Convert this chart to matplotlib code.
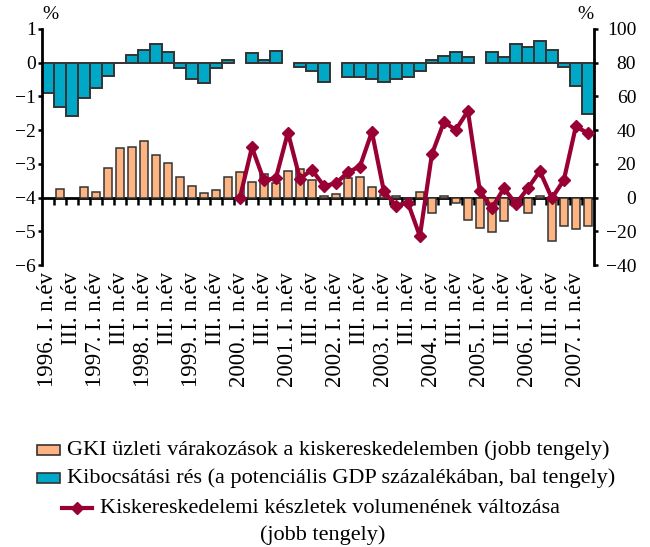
import numpy as np
import matplotlib
matplotlib.use("Agg")
import matplotlib.pyplot as plt
from matplotlib.patches import Rectangle
from matplotlib.lines import Line2D

plt.rcParams['font.family'] = ['Liberation Serif', 'DejaVu Serif']

# quarterly data, 1996 Q1 - 2007 Q2
tick_labels = ["1996. I. n.év", "III. n.év", "1997. I. n.év", "III. n.év",
               "1998. I. n.év", "III. n.év", "1999. I. n.év", "III. n.év",
               "2000. I. n.év", "III. n.év", "2001. I. n.év", "III. n.év",
               "2002. I. n.év", "III. n.év", "2003. I. n.év", "III. n.év",
               "2004. I. n.év", "III. n.év", "2005. I. n.év", "III. n.év",
               "2006. I. n.év", "III. n.év", "2007. I. n.év"]

# output gap, % of potential GDP (left axis)
gap = [-0.91, -1.30, -1.59, -1.04, -0.75, -0.39, -0.02, 0.23, 0.38, 0.56,
       0.31, -0.17, -0.49, -0.61, -0.17, 0.09, 0.0, 0.29, 0.09, 0.36,
       0.0, -0.13, -0.26, -0.57, 0.0, -0.43, -0.43, -0.49, -0.57, -0.49,
       -0.43, -0.25, 0.09, 0.19, 0.31, 0.16, 0.0, 0.31, 0.18, 0.56,
       0.47, 0.65, 0.38, -0.13, -0.69, -1.52]

# GKI retail business expectations (right axis)
gki = [0.0, 5.3, 0.0, 6.5, 3.5, 17.8, 29.4, 30.0, 33.7, 25.0,
       20.5, 12.2, 7.1, 2.8, 4.4, 12.0, 14.9, 9.0, 14.1, 8.4,
       15.5, 17.1, 10.4, 1.2, 2.2, 11.8, 12.2, 6.5, 1.8, 1.0,
       -1.0, 3.5, -9.0, 1.0, -3.3, -13.5, -17.8, -20.4, -13.9, -4.9,
       -9.0, 1.0, -25.5, -17.0, -18.4, -17.0]

# change in retail inventories volume (right axis)
stocks = [np.nan] * 16 + [0.0, 29.8, 10.2, 11.6, 38.6, 11.2, 16.5, 6.9, 8.4, 15.1,
                          18.4, 39.0, 3.7, -4.7, -3.1, -22.9, 25.7, 44.7, 40.2, 51.4,
                          3.9, -6.3, 5.5, -3.7, 5.5, 15.7, -0.4, 10.4, 42.2, 38.2]

blue = '#00A8C8'
orange = '#FDB482'
red = '#990033'
edge = '#333333'

fig = plt.figure(figsize=(6.5, 5.47), dpi=100)
ax = fig.add_axes([0.0646, 0.5155, 0.849, 0.4315])
ax2 = ax.twinx()

x = np.arange(len(gap)) + 0.5
gap_a = np.array(gap)
gki_a = np.array(gki)
m1 = gap_a != 0
m2 = gki_a != 0

ax.bar(x[m1], gap_a[m1], width=1.0, color=blue, edgecolor=edge, linewidth=1.4, zorder=2)
ax2.bar(x[m2], gki_a[m2], width=0.72, color=orange, edgecolor=edge, linewidth=1.1, zorder=2)
ax2.plot(x, stocks, color=red, lw=3, marker='D', ms=6.5, zorder=3)

ax.set_xlim(0, len(gap))
ax.set_ylim(-6, 1)
ax2.set_ylim(-40, 100)
ax.set_yticks(range(-6, 2))
ax2.set_yticks(range(-40, 101, 20))

for a in (ax, ax2):
    a.spines['top'].set_visible(False)
    for s in a.spines.values():
        s.set_linewidth(2)
ax.spines['right'].set_visible(False)
ax2.spines['left'].set_visible(False)
ax2.spines['bottom'].set_visible(False)
ax.spines['bottom'].set_position(('data', -4))
ax.spines['bottom'].set_zorder(4)

ax.set_xticks(np.arange(1, len(gap)))
ax.tick_params(axis='x', direction='out', length=5, width=1.8, labelbottom=False)
ax.tick_params(axis='y', direction='out', length=3, width=1.8, labelsize=14, pad=1.5)
ax2.tick_params(axis='y', direction='out', length=3, width=1.8, labelsize=14, pad=27.5)
for t in ax2.get_yticklabels():
    t.set_horizontalalignment('right')

for i, lab in enumerate(tick_labels):
    ax.text(x[2 * i], -0.03, lab, transform=ax.get_xaxis_transform(),
            rotation=90, ha='center', va='top', fontsize=16.5)

ax.text(0.0, 1.025, '%', transform=ax.transAxes, ha='left', va='bottom', fontsize=14)
ax2.text(1.0, 1.025, '%', transform=ax2.transAxes, ha='right', va='bottom', fontsize=14)

# legend drawn by hand so rows can be centred like the original
fs = 16
for yc, col, lab in [(0.177, orange, "GKI üzleti várakozások a kiskereskedelemben (jobb tengely)"),
                     (0.126, blue, "Kibocsátási rés (a potenciális GDP százalékában, bal tengely)")]:
    fig.patches.append(Rectangle((0.057, yc - 0.009), 0.035, 0.018, transform=fig.transFigure,
                                 facecolor=col, edgecolor=edge, lw=1.2))
    fig.text(0.103, yc, lab, ha='left', va='center', fontsize=fs)
fig.lines.append(Line2D([0.095, 0.142], [0.071, 0.071], transform=fig.transFigure,
                        color=red, lw=3))
fig.lines.append(Line2D([0.1185], [0.071], transform=fig.transFigure,
                        color=red, marker='D', ms=6, ls='none'))
fig.text(0.154, 0.071, "Kiskereskedelemi készletek volumenének változása",
         ha='left', va='center', fontsize=fs)
fig.text(0.497, 0.022, "(jobb tengely)", ha='center', va='center', fontsize=fs)

fig.savefig('out.png', dpi=100)
